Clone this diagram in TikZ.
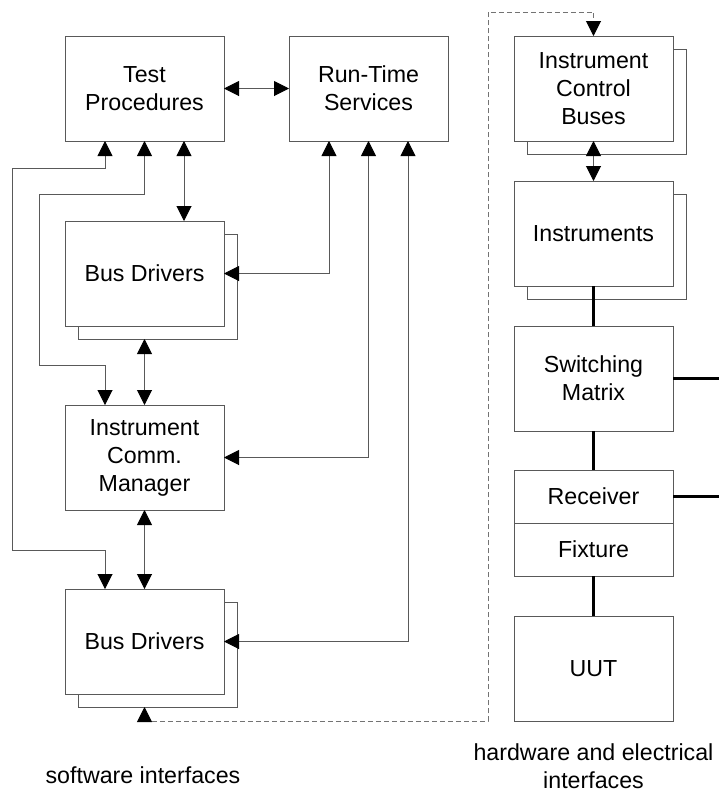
\documentclass[tikz,border=0pt]{standalone}
\usepackage{fontspec}
\setmainfont{Liberation Sans}
\usetikzlibrary{arrows.meta,positioning,shadows}

\begin{document}
\begin{tikzpicture}[
  font=\fontsize{11.6}{14}\selectfont,
  node distance=40pt and 32.5pt,
  box/.style={draw=black!65, fill=white, line width=0.5pt, minimum width=79.5pt, minimum height=52.5pt, inner sep=0pt, outer sep=0pt, align=center},
  stack/.style={box, copy shadow={shadow xshift=6.5pt, shadow yshift=-6.5pt, draw=black!65, fill=white, line width=0.5pt}},
  half/.style={box, minimum height=26.5pt},
  lbl/.style={inner sep=0pt, align=center},
  dbl/.style={{Triangle[length=7.5pt,width=7.5pt,color=black]}-{Triangle[length=7.5pt,width=7.5pt,color=black]}, draw=black!65, line width=0.5pt},
  link/.style={line width=1.5pt, draw=black},
  ctl/.style={dbl, draw=black!55, dash pattern=on 2.5pt off 1.5pt},
]
  \useasboundingbox (0,0) rectangle (359.5pt,-397pt);
  \coordinate (edge) at (359.5pt,0);

  % software side
  \node[box] (tp) at (72.25pt,-44.25pt) {Test\\Procedures};
  \node[box, right=of tp] (rts) {Run-Time\\Services};
  \node[stack, below=40pt of tp] (bd1) {Bus Drivers};
  \node[box, below=39.5pt of bd1] (icm) {Instrument\\Comm.\\Manager};
  \node[stack, below=39.5pt of icm] (bd2) {Bus Drivers};

  % hardware side
  \node[stack, right=33pt of rts] (icb) {Instrument\\Control\\Buses};
  \node[stack, below=20pt of icb] (inst) {Instruments};
  \node[box, below=20pt of inst] (sm) {Switching\\Matrix};
  \node[half, below=19.5pt of sm] (recv) {Receiver};
  \node[half, below=0pt of recv] (fix) {Fixture};
  \node[box, below=20pt of fix] (uut) {UUT};

  \node[lbl] (swlbl) at ([xshift=-0.75pt,yshift=-40.5pt]bd2.south) {software interfaces};
  \node[lbl] (hwlbl) at ([yshift=-22.75pt]uut.south) {hardware and electrical\\interfaces};

  \draw[dbl] (tp) -- (rts);
  \draw[dbl] ([xshift=19.75pt]tp.south) -- ([xshift=19.75pt]bd1.north);
  \draw[dbl] ([yshift=-6.5pt]bd1.south) -- (icm.north);
  \draw[dbl] (icm.south) -- (bd2.north);
  \draw[dbl] ([xshift=-19.75pt]tp.south) -- ++(0,-13.5pt) -- ++(-46.5pt,0)
    |- ([xshift=-19.75pt,yshift=19.5pt]bd2.north) -- ([xshift=-19.75pt]bd2.north);
  \draw[dbl] (tp.south) -- ++(0,-26.5pt) -- ++(-52.75pt,0)
    |- ([xshift=-19.75pt,yshift=20pt]icm.north) -- ([xshift=-19.75pt]icm.north);
  \draw[dbl] ([xshift=-19.75pt]rts.south) |- (bd1.east);
  \draw[dbl] (rts.south) |- (icm.east);
  \draw[dbl] ([xshift=19.75pt]rts.south) |- (bd2.east);

  \draw[ctl] ([yshift=-6.5pt]bd2.south) -- ++(0,-7pt)
    -| ([xshift=-13pt,yshift=12pt]icb.north west) -| (icb.north);

  \draw[dbl] (icb.south) -- (inst.north);
  \draw[link] (inst.south) -- (sm.north);
  \draw[link] (sm.south) -- (recv.north);
  \draw[link] (fix.south) -- (uut.north);
  \draw[link] (sm.east) -- (sm.east -| edge);
  \draw[link] (recv.east) -- (recv.east -| edge);
\end{tikzpicture}
\end{document}
